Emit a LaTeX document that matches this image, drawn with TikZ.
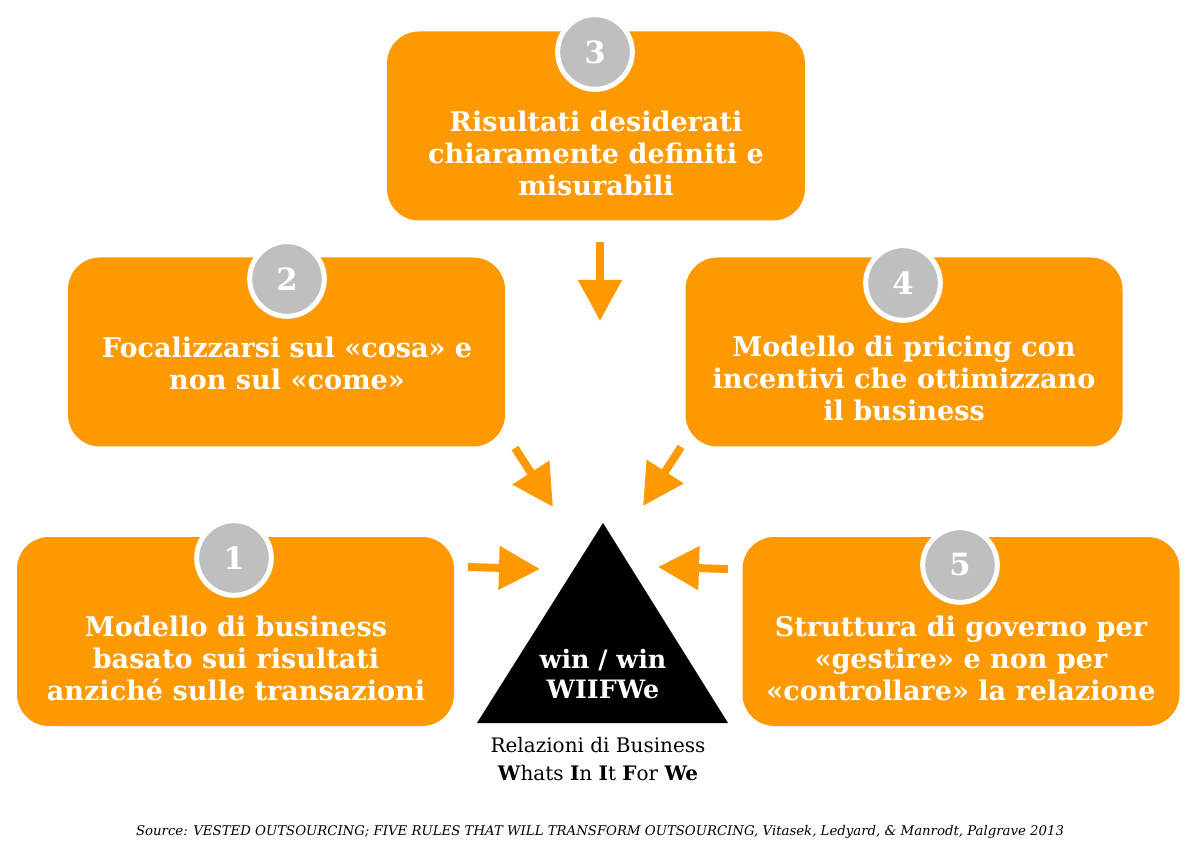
\documentclass[tikz,border=0pt]{standalone}
\usepackage{fontspec}
\usepackage{graphicx}
\setmainfont{DejaVu Serif}
\usetikzlibrary{arrows.meta}
\definecolor{orng}{RGB}{255,153,0}
\definecolor{numgrey}{RGB}{191,191,191}
\begin{document}
\begin{tikzpicture}[x=0.75pt,y=-0.75pt,
  box/.style={fill=orng, rounded corners=24pt, draw=none, minimum width=327.75pt, minimum height=141.75pt, inner sep=0pt},
  boxtext/.style={text=white, font=\bfseries\fontsize{20.3}{24}\selectfont, align=center},
  numc/.style={circle, fill=numgrey, draw=white, line width=3.75pt, minimum size=56pt, inner sep=0pt, text=white, font=\bfseries\fontsize{23}{23}\selectfont},
  blk/.style={draw=orng, line width=6pt, -{Triangle[length=30.75pt,width=31.5pt]}},
  tritext/.style={text=white, font=\bfseries\fontsize{19}{23}\selectfont, align=center},
  captext/.style={text=black, font=\fontsize{15}{21}\selectfont, align=center}
]
\useasboundingbox (0,0) rectangle (1200,855);
% boxes
\node[box, minimum width=313.5pt] (b3) at (596,126) {};
\node[box] (b2) at (286.5,352) {};
\node[box] (b4) at (904,352) {};
\node[box] (b1) at (235.5,631.5) {};
\node[box] (b5) at (961,631.5) {};
% box texts
\node[boxtext] (t3) at (596,153) {Risultati desiderati\\chiaramente definiti e\\misurabili};
\node[boxtext] (t2) at (287,363.5) {Focalizzarsi sul «cosa» e\\non sul «come»};
\node[boxtext] (t4) at (904,378.5) {Modello di pricing con\\incentivi che ottimizzano\\il business};
\node[boxtext] (t1) at (236,658.5) {Modello di business\\basato sui risultati\\anziché sulle transazioni};
\node[boxtext] (t5) at (961,658.5) {Struttura di governo per\\«gestire» e non per\\«controllare» la relazione};
% number circles
\node[numc] (n3) at (595,52) {3};
\node[numc] (n2) at (287,279) {2};
\node[numc] (n4) at (903,283) {4};
\node[numc] (n1) at (234,558) {1};
\node[numc] (n5) at (960,565) {5};
% triangle
\coordinate (apex) at (603,523);
\coordinate (bl) at (477,723);
\coordinate (br) at (728,723);
\fill[black] (apex) -- (bl) -- (br) -- cycle;
\node[tritext] (win) at (603,674) {win / win\\WIIFWe};
\node[captext] (cap) at (598,759) {Relazioni di Business\\\textbf{W}hats \textbf{I}n \textbf{I}t \textbf{F}or \textbf{We}};
% arrows
\coordinate (a3s) at (600,242);
\coordinate (a3e) at (600,321);
\coordinate (a2s) at (515,448);
\coordinate (a2e) at (553,507);
\coordinate (a4s) at (681,447);
\coordinate (a4e) at (643,506);
\coordinate (a1s) at (468,567);
\coordinate (a1e) at (540,569);
\coordinate (a5s) at (728,569);
\coordinate (a5e) at (658,567);
\draw[blk] (a3s) -- (a3e);
\draw[blk] (a2s) -- (a2e);
\draw[blk] (a4s) -- (a4e);
\draw[blk] (a1s) -- (a1e);
\draw[blk] (a5s) -- (a5e);
% source
\node[font=\itshape\fontsize{10}{12}\selectfont] (src) at (600,832) {\resizebox{696pt}{\height}{Source: VESTED OUTSOURCING; FIVE RULES THAT WILL TRANSFORM OUTSOURCING, Vitasek, Ledyard, \& Manrodt, Palgrave 2013}};
\end{tikzpicture}
\end{document}
